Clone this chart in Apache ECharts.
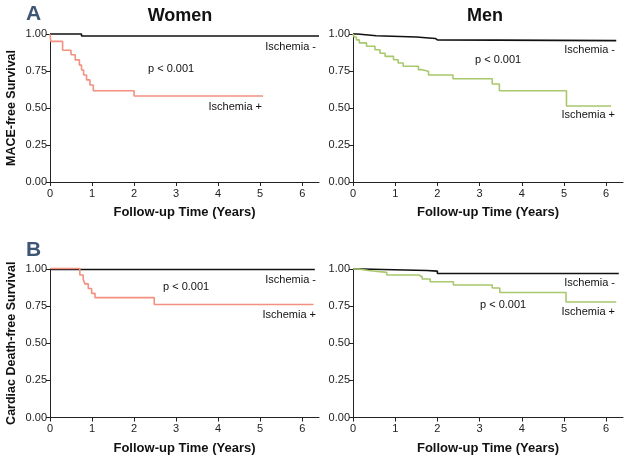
<!DOCTYPE html>
<html><head><meta charset="utf-8">
<script src="https://cdn.jsdelivr.net/npm/echarts@6/dist/echarts.min.js"></script>
<style>html,body{margin:0;padding:0;background:#fff}#c{width:629px;height:459px}</style>
</head><body><div id="c"></div>
<script>
// Kaplan-Meier curves (time in years, survival)
const xTicks = [0, 1, 2, 3, 4, 5, 6];
const yTicks = [0, 0.25, 0.5, 0.75, 1];

const womenA_negT = [0, 0.75, 6.4];
const womenA_negS = [1, 0.986, 0.986];
const womenA_posT = [0, 0.02, 0.3, 0.5, 0.6, 0.7, 0.75, 0.8, 0.87, 0.95, 1.03, 2.0, 5.07];
const womenA_posS = [1, 0.95, 0.89, 0.86, 0.825, 0.79, 0.757, 0.723, 0.69, 0.655, 0.617, 0.581, 0.581];

const menA_negT = [0, 0.1, 0.3, 0.55, 1.5, 1.95, 2.0, 6.24];
const menA_negS = [1, 0.995, 0.988, 0.98, 0.97, 0.96, 0.955, 0.955];
const menA_posT = [0, 0.03, 0.08, 0.15, 0.32, 0.52, 0.64, 0.76, 0.96, 1.07, 1.19, 1.55, 1.63, 1.79, 2.37, 3.3, 3.47, 5.06, 6.12];
const menA_posS = [1, 0.98, 0.96, 0.94, 0.917, 0.894, 0.87, 0.849, 0.826, 0.804, 0.782, 0.759, 0.748, 0.723, 0.698, 0.662, 0.617, 0.514, 0.514];

const womenB_negT = [0, 6.3];
const womenB_negS = [0.997, 0.997];
const womenB_posT = [0, 0.71, 0.79, 0.83, 0.91, 0.99, 1.07, 2.48, 6.27];
const womenB_posS = [1.003, 0.96, 0.93, 0.9, 0.869, 0.836, 0.807, 0.761, 0.761];

const menB_negT = [0, 0.2, 1.75, 2.0, 6.3];
const menB_negS = [1, 0.99, 0.986, 0.97, 0.97];
const menB_posT = [0, 0.12, 0.36, 0.8, 1.56, 1.64, 1.83, 2.38, 3.3, 3.48, 5.05, 6.24];
const menB_posS = [1, 0.99, 0.977, 0.96, 0.948, 0.933, 0.914, 0.892, 0.872, 0.842, 0.778, 0.778];

const FONT = 'Liberation Sans';
const RED = '#f2917f', GREEN = '#a8c86c', BLACK = '#111';

const grids = [
  {left: 50, top: 34, width: 269, height: 148},
  {left: 353, top: 34, width: 270, height: 148},
  {left: 50, top: 269, width: 269, height: 148.5},
  {left: 353, top: 269, width: 270, height: 148.5}
];
const yNames = ['MACE-free Survival', '', 'Cardiac Death-free Survival', ''];

function xAxis(i) {
  return {
    type: 'value', gridIndex: i, min: 0, max: 6.4,
    name: 'Follow-up Time (Years)', nameLocation: 'middle', nameGap: 24,
    nameTextStyle: {fontFamily: FONT, fontWeight: 'bold', fontSize: 13, color: '#111'},
    axisLine: {show: true, onZero: false, lineStyle: {color: '#222', width: 1}},
    axisTick: {show: true, length: 4, lineStyle: {color: '#222'}, customValues: xTicks},
    axisLabel: {fontFamily: FONT, fontSize: 11, color: '#222', margin: 6, customValues: xTicks},
    splitLine: {show: false}
  };
}
function yAxis(i) {
  return {
    type: 'value', gridIndex: i, min: 0, max: 1, interval: 0.25,
    name: yNames[i], nameLocation: 'middle', nameGap: 32,
    nameTextStyle: {fontFamily: FONT, fontWeight: 'bold', fontSize: 12.5, color: '#111'},
    axisLine: {show: true, onZero: false, lineStyle: {color: '#222', width: 1}},
    axisTick: {show: true, length: 4, lineStyle: {color: '#222'}, customValues: yTicks},
    axisLabel: {fontFamily: FONT, fontSize: 11, color: '#222', margin: 3, customValues: yTicks,
      formatter: v => v.toFixed(2)},
    splitLine: {show: false}
  };
}
function km(i, T, S, color, w) {
  return {
    type: 'line', xAxisIndex: i, yAxisIndex: i, step: 'end', symbol: 'none', clip: false,
    lineStyle: {color: color, width: w}, data: T.map((t, k) => [t, S[k]]), animation: false
  };
}

const txt = (x, y, s, align) => ({
  type: 'text', x: x, y: y,
  style: {text: s, fontFamily: FONT, fontSize: 11, fill: '#111', textAlign: align || 'left', textVerticalAlign: 'middle'}
});

const chart = echarts.init(document.getElementById('c'));
chart.setOption({
  animation: false,
  grid: grids,
  xAxis: [0, 1, 2, 3].map(xAxis),
  yAxis: [0, 1, 2, 3].map(yAxis),
  series: [
    km(0, womenA_negT, womenA_negS, BLACK, 1.6),
    km(0, womenA_posT, womenA_posS, RED, 1.6),
    km(1, menA_negT, menA_negS, BLACK, 1.6),
    km(1, menA_posT, menA_posS, GREEN, 1.6),
    km(2, womenB_negT, womenB_negS, BLACK, 1.6),
    km(2, womenB_posT, womenB_posS, RED, 1.6),
    km(3, menB_negT, menB_negS, BLACK, 1.6),
    km(3, menB_posT, menB_posS, GREEN, 1.6)
  ],
  graphic: [
    {type: 'text', x: 26, y: 14, style: {text: 'A', fontFamily: FONT, fontWeight: 'bold', fontSize: 21, fill: '#3d5675', textVerticalAlign: 'middle'}},
    {type: 'text', x: 26, y: 250, style: {text: 'B', fontFamily: FONT, fontWeight: 'bold', fontSize: 21, fill: '#3d5675', textVerticalAlign: 'middle'}},
    {type: 'text', x: 180, y: 16, style: {text: 'Women', fontFamily: FONT, fontWeight: 'bold', fontSize: 18, fill: '#111', textAlign: 'center', textVerticalAlign: 'middle'}},
    {type: 'text', x: 485, y: 16, style: {text: 'Men', fontFamily: FONT, fontWeight: 'bold', fontSize: 18, fill: '#111', textAlign: 'center', textVerticalAlign: 'middle'}},
    txt(316, 47, 'Ischemia -', 'right'),
    txt(148, 69, 'p < 0.001', 'left'),
    txt(262, 107, 'Ischemia +', 'right'),
    txt(615, 50, 'Ischemia -', 'right'),
    txt(475, 60, 'p < 0.001', 'left'),
    txt(615, 115, 'Ischemia +', 'right'),
    txt(316, 280, 'Ischemia -', 'right'),
    txt(163, 287, 'p < 0.001', 'left'),
    txt(316, 315, 'Ischemia +', 'right'),
    txt(615, 283, 'Ischemia -', 'right'),
    txt(480, 305, 'p < 0.001', 'left'),
    txt(615, 312, 'Ischemia +', 'right')
  ]
});
</script></body></html>
